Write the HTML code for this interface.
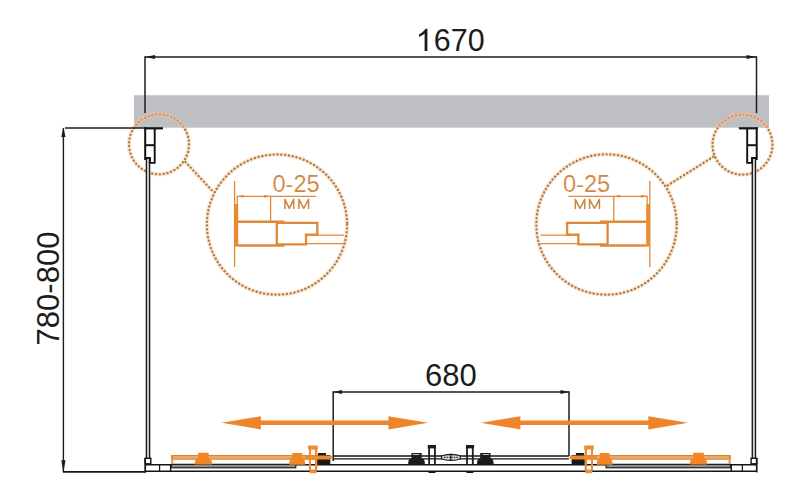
<!DOCTYPE html>
<html><head><meta charset="utf-8"><style>
html,body{margin:0;padding:0;background:#fff;width:800px;height:488px;overflow:hidden}
svg{display:block}
text{font-family:"Liberation Sans",sans-serif}
</style></head><body>
<svg width="800" height="488" viewBox="0 0 800 488">
<!-- ceiling / gray bar -->
<rect x="134" y="95.2" width="635" height="32.5" fill="#bebfc3"/>

<!-- dotted circles -->
<defs>
<clipPath id="cgray"><rect x="134" y="95.2" width="635" height="32.5"/></clipPath>
<clipPath id="cwhite"><path d="M0 0 H800 V488 H0 Z M134 95.2 V127.7 H769 V95.2 Z" clip-rule="evenodd"/></clipPath>
<g id="dshapes">
<circle cx="159" cy="144.3" r="30"/>
<circle cx="742.5" cy="144.7" r="30"/>
<circle cx="277" cy="224.6" r="70.1"/>
<circle cx="606.5" cy="224.5" r="70.2"/>
<line x1="185.5" y1="162" x2="212" y2="190.5"/>
<line x1="713.4" y1="156.7" x2="667.3" y2="185.6"/>
</g>
</defs>
<g clip-path="url(#cwhite)">
<use href="#dshapes" fill="none" stroke="#fce6cc" stroke-width="4.2"/>
<use href="#dshapes" fill="none" stroke="#a87c56" stroke-width="2.3" stroke-linecap="round" stroke-dasharray="0.2 3.64"/>
</g>
<g clip-path="url(#cgray)">
<use href="#dshapes" fill="none" stroke="#e6bfa4" stroke-width="4"/>
<use href="#dshapes" fill="none" stroke="#cf946f" stroke-width="2.3" stroke-linecap="round" stroke-dasharray="0.2 3.64"/>
</g>

<!-- top dimension 1670 -->
<g stroke="#1c1c1c" stroke-width="1.5" fill="none">
<line x1="145" y1="57" x2="756.5" y2="57"/>
<line x1="145" y1="56.3" x2="145" y2="113"/>
<line x1="756.5" y1="56.3" x2="756.5" y2="113"/>
</g>
<g fill="#1c1c1c">
<polygon points="145,57 155,55 155,59"/>
<polygon points="756.5,57 746.5,55 746.5,59"/>
</g>
<path d="M427.4 51 H424.6 V33.6 C423.4 34.8 421.4 36 419.1 37 V34.3 C421.9 33 424.2 31 425.5 28.8 H427.4 Z" fill="#1c1c1c"/>
<text x="433.85" y="50.6" font-size="31.2" textLength="50.8" lengthAdjust="spacingAndGlyphs" fill="#1c1c1c">670</text>

<!-- left vertical dimension 780-800 -->
<g stroke="#1c1c1c" stroke-width="1.4" fill="none">
<line x1="63.4" y1="128" x2="63.4" y2="472"/>
<line x1="65" y1="128" x2="146" y2="128"/>
<line x1="63" y1="471.8" x2="146" y2="471.8"/>
</g>
<g fill="#1c1c1c">
<polygon points="63.4,127.3 61.3,137 65.5,137"/>
<polygon points="63.4,472.3 61.3,460.3 65.5,460.3"/>
</g>
<text transform="translate(58.6,288.5) rotate(-90)" x="0" y="0" font-size="31" text-anchor="middle" fill="#1c1c1c">780-800</text>

<!-- left wall profile top + glass (mirrored for right) -->
<g id="wallL">
<rect x="146.4" y="158" width="3.2" height="301" fill="#d6d6d6"/>
<g stroke="#1e1e1e" stroke-width="1.4">
<line x1="146.4" y1="158" x2="146.4" y2="459"/>
<line x1="149.6" y1="158" x2="149.6" y2="459"/>
</g>
<g stroke="#111" stroke-width="2" fill="none">
<path d="M144 128.3 H163" stroke-width="2.2"/>
<path d="M145.2 127.5 V160"/>
<path d="M154.7 128.3 V162.9 H149.9 V158 H146" stroke-width="1.9"/>
<path d="M145.2 145.2 H154.7"/>
</g>
</g>
<use href="#wallL" transform="matrix(-1,0,0,1,901.9,0)"/>

<!-- left detail contents -->
<g id="detL" stroke="#e0883a" fill="none">
<line x1="234.6" y1="181" x2="234.6" y2="267" stroke-width="1.3"/>
<rect x="234.6" y="204" width="3.6" height="42.6" fill="#e98a30" stroke="none"/>
<line x1="237.2" y1="196" x2="237.2" y2="204" stroke-width="1.2"/>
<line x1="237" y1="196.3" x2="316" y2="196.3" stroke-width="1.3"/>
<line x1="270.6" y1="196" x2="270.6" y2="221" stroke-width="1.3"/>
<line x1="238" y1="221.7" x2="284.5" y2="221.7" stroke-width="2.6"/>
<line x1="238" y1="245.5" x2="284.5" y2="245.5" stroke-width="2.6"/>
<path d="M276.8 245 V222.8 H317.3 V234.7 H306 V244.4 H276.8" stroke-width="2.3"/>
<line x1="306" y1="235.2" x2="344" y2="235.2" stroke-width="1.2"/>
<line x1="306" y1="243.6" x2="344" y2="243.6" stroke-width="1.2"/>
<polygon points="237.5,196.3 243.5,194.8 243.5,197.8" fill="#e0883a" stroke="none"/>
<polygon points="270.3,196.3 264.3,194.8 264.3,197.8" fill="#e0883a" stroke="none"/>
</g>
<use href="#detL" transform="matrix(-1,0,0,1,884.4,0)"/>
<g fill="#d08742" stroke="#fff" stroke-width="0.15" font-size="23.6">
<text x="296.1" y="191.6" text-anchor="middle">0-25</text>
<text x="586.6" y="191.6" text-anchor="middle">0-25</text>
</g>
<g fill="none" stroke="#c98640" stroke-width="1.5" stroke-linejoin="round">
<path d="M284.95 209 V199.3 L289.3 208.3 L293.65 199.3 V209 M298.95 209 V199.3 L303.75 208.3 L308.55 199.3 V209"/>
<path d="M575.35 209 V199.3 L580.05 208.3 L584.75 199.3 V209 M589.55 209 V199.3 L594.5 208.3 L599.45 199.3 V209"/>
</g>

<!-- 680 dimension -->
<g stroke="#1c1c1c" stroke-width="1.5" fill="none">
<line x1="333.2" y1="392" x2="569" y2="392"/>
<line x1="333.2" y1="391.3" x2="333.2" y2="461"/>
<line x1="569" y1="391.3" x2="569" y2="456"/>
</g>
<g fill="#1c1c1c">
<polygon points="333.2,392 342,390 342,394"/>
<polygon points="569,392 560.5,390 560.5,394"/>
</g>
<text x="450.9" y="385.8" font-size="31" text-anchor="middle" fill="#1c1c1c">680</text>

<!-- orange movement arrows -->
<g fill="#f0842a">
<path d="M221.4 422.8 L260.9 416.3 V420.5 H388.4 V416.3 L428.1 422.8 L388.4 429.4 V425.1 H260.9 V429.4 Z"/>
<path d="M480.6 422.8 L520.4 416.3 V420.5 H648.3 V416.3 L688 422.8 L648.3 429.4 V425.1 H520.4 V429.4 Z"/>
</g>

<!-- bottom track -->
<g id="botL">
<g stroke="#151515" fill="none">
<line x1="145" y1="464.8" x2="451" y2="464.8" stroke-width="1.5"/>
<line x1="145" y1="471.2" x2="451" y2="471.2" stroke-width="1.6"/>
<line x1="333" y1="456" x2="451" y2="456" stroke-width="1.3"/>
<line x1="333" y1="458.8" x2="451" y2="458.8" stroke-width="1.3"/>
<rect x="171.2" y="464.3" width="124.6" height="3.5" fill="#8c8c8e" stroke-width="1.1"/>
<rect x="145.2" y="458.3" width="5.6" height="5.5" stroke-width="1.4"/>
<line x1="145.2" y1="458" x2="145.2" y2="472.4" stroke-width="1.7"/>
<line x1="159.6" y1="464" x2="159.6" y2="471.5" stroke-width="1.2"/>
<line x1="170.6" y1="464" x2="170.6" y2="471.5" stroke-width="1.4"/>
</g>
<!-- orange sliding door -->
<rect x="171.5" y="455.5" width="150" height="3.7" fill="#eea866" stroke="#d4883e" stroke-width="1.1"/>
<rect x="171.3" y="455.2" width="2" height="8.5" fill="#ec8d3a"/>
<path d="M194.8 464.4 C194.8 459.9 196.0 458.4 198.1 458.4 V452.8 H208.7 V458.4 C210.8 458.4 212.0 459.9 212.0 464.4 Z" fill="#f28524"/>
<path d="M289.3 464.8 C289.3 460.1 290.5 458.6 292.3 458.6 V452.9 H302.2 V458.6 C304.0 458.6 305.2 460.1 305.2 464.8 Z" fill="#f28524"/>
<!-- black block near handle -->
<path d="M317 464.4 V455 H318 V452.9 H326 V455 H330.3 V464.4 Z" fill="#1a1a1a"/>
<path d="M305 455.5 H331 L333 457.5 L331 459.6 H305 Z" fill="#ec8a2e"/>
<!-- orange handle -->
<g fill="#ee8c34">
<rect x="308.1" y="445.5" width="9.6" height="4.1"/>
<rect x="308.9" y="449" width="2.1" height="21"/>
<rect x="314.9" y="449" width="2.4" height="21"/>
<rect x="309.6" y="469.5" width="7" height="3.7"/>
</g>
<!-- central black roller + handle -->
<path d="M408.2 464.6 C408.2 460.1 409.4 458.6 411.4 458.6 V453.1 H421.7 V458.6 C423.7 458.6 424.9 460.1 424.9 464.6 Z" fill="#1c1c1c"/>
<rect x="412.8" y="454" width="6.4" height="0.9" fill="#d8d8d8"/>
<g fill="#1c1c1c">
<rect x="427.8" y="445" width="8.2" height="3.4"/>
<rect x="428.2" y="447" width="1.8" height="17.6"/>
<rect x="434" y="447" width="1.8" height="17.6"/>
<rect x="428.5" y="471.8" width="7" height="1.2"/>
</g>
<!-- seal bulge -->
<path d="M441.5 456 C444 454.8 447 454.4 451 454.4 V460.4 C447 460.4 444 460 441.5 458.8 Z" fill="#d8d8d8" stroke="#1a1a1a" stroke-width="1.1"/>
<path d="M444 457.4 H451" stroke="#333" stroke-width="1.2" stroke-dasharray="1.6 1"/>
</g>
<use href="#botL" transform="matrix(-1,0,0,1,901.9,0)"/>
<line x1="62.8" y1="471.8" x2="146" y2="471.8" stroke="#151515" stroke-width="1.5"/>
</svg>
</body></html>
